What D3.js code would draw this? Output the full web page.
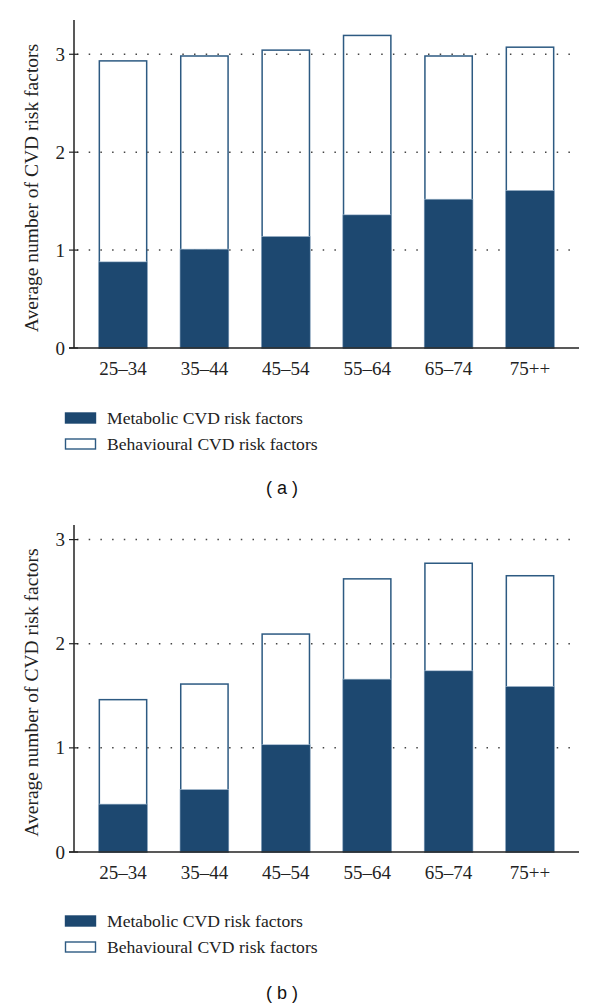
<!DOCTYPE html>
<html>
<head>
<meta charset="utf-8">
<script src="https://cdn.jsdelivr.net/npm/d3@7/dist/d3.min.js"></script>
<style>
  html, body { margin: 0; padding: 0; background: #fff; }
  svg { display: block; }
</style>
</head>
<body>
<svg id="chart" width="600" height="1008"></svg>
<script>
const categories = ["25–34", "35–44", "45–54", "55–64", "65–74", "75++"];
const metabolicA = [0.88, 1.01, 1.14, 1.36, 1.52, 1.61];
const behaviouralA = [2.06, 1.98, 1.91, 1.84, 1.47, 1.47];
const metabolicB = [0.46, 0.60, 1.03, 1.66, 1.74, 1.59];
const behaviouralB = [1.01, 1.02, 1.07, 0.97, 1.04, 1.07];
const yTicks = [0, 1, 2, 3];
const seriesNames = ["Metabolic CVD risk factors", "Behavioural CVD risk factors"];
const panelLabels = ["( a )", "( b )"];
const yTitle = "Average number of CVD risk factors";

const DARK = "#1d4870";
const EDGE = "#2d5a82";
const SERIF = "'Liberation Serif', 'DejaVu Serif', serif";
const SANS = "'Liberation Sans', Arial, sans-serif";

const svg = d3.select("#chart");

function panel(cfg) {
  const g = svg.append("g");
  const x = d3.scaleBand().domain(categories).range([74, 579])
    .paddingInner(0.4).paddingOuter(0.302);
  const y = d3.scaleLinear().domain([0, cfg.yMax]).range([cfg.y0, cfg.yTop]);
  const data = categories.map((c, i) => ({
    c, m: cfg.met[i], b: cfg.beh[i], t: cfg.met[i] + cfg.beh[i]
  }));

  g.selectAll("rect.beh").data(data).enter().append("rect")
    .attr("class", "beh")
    .attr("x", d => x(d.c) + 0.75)
    .attr("width", x.bandwidth() - 1.5)
    .attr("y", d => y(d.t) + 0.75)
    .attr("height", d => y(0) - y(d.t) - 0.75)
    .attr("fill", "#fff")
    .attr("stroke", EDGE)
    .attr("stroke-width", 1.5);

  g.selectAll("line.grid").data(yTicks.filter(v => v > 0)).enter().append("line")
    .attr("x1", 77).attr("x2", 579)
    .attr("y1", d => y(d)).attr("y2", d => y(d))
    .attr("stroke", "#444")
    .attr("stroke-width", 1.5)
    .attr("stroke-dasharray", "1.5,10.2");

  g.selectAll("rect.met").data(data).enter().append("rect")
    .attr("class", "met")
    .attr("x", d => x(d.c))
    .attr("width", x.bandwidth())
    .attr("y", d => y(d.m))
    .attr("height", d => y(0) - y(d.m))
    .attr("fill", DARK)
    .attr("stroke", "#a9bfd3")
    .attr("stroke-width", 0.6);

  const yAxis = d3.axisLeft(y).tickValues(yTicks).tickSize(0).tickPadding(9).tickFormat(d3.format("d"));
  const ya = g.append("g").attr("transform", "translate(74,0)").call(yAxis);
  ya.select(".domain").remove();
  ya.selectAll("text").attr("font-family", SERIF).attr("font-size", 19).attr("fill", "#222");
  ya.append("line").attr("x1", 0).attr("x2", 0).attr("y1", cfg.yTop).attr("y2", cfg.y0)
    .attr("stroke", "#222").attr("stroke-width", 1.5);
  ya.selectAll("line.tk").data(yTicks).enter().append("line")
    .attr("x1", -5).attr("x2", 4).attr("y1", d => y(d)).attr("y2", d => y(d))
    .attr("stroke", "#222").attr("stroke-width", 1.2);

  const xAxis = d3.axisBottom(x).tickSize(0).tickPadding(14);
  const xa = g.append("g").attr("transform", `translate(0,${cfg.y0})`).call(xAxis);
  xa.select(".domain").remove();
  xa.selectAll("text").attr("font-family", SERIF).attr("font-size", 19).attr("fill", "#222");
  xa.append("line").attr("x1", 69).attr("x2", 579).attr("y1", 0).attr("y2", 0)
    .attr("stroke", "#222").attr("stroke-width", 1.5);

  g.append("text")
    .attr("transform", `translate(38,${(cfg.yTop + cfg.y0) / 2 + 4}) rotate(-90)`)
    .attr("text-anchor", "middle")
    .attr("font-family", SERIF).attr("font-size", 19.5).attr("fill", "#222")
    .text(yTitle);

  const lg = g.append("g");
  seriesNames.forEach((name, i) => {
    const cy = cfg.legY + i * 26;
    lg.append("rect")
      .attr("x", 65.5).attr("y", cy - 5).attr("width", 30).attr("height", 10)
      .attr("fill", i === 0 ? DARK : "#fff")
      .attr("stroke", i === 0 ? DARK : EDGE)
      .attr("stroke-width", 1.4);
    lg.append("text")
      .attr("x", 107).attr("y", cy).attr("dy", "0.35em")
      .attr("font-family", SERIF).attr("font-size", 17.6).attr("fill", "#222")
      .text(name);
  });

  g.append("text")
    .attr("x", 282).attr("y", cfg.labY).attr("dy", "0.35em")
    .attr("text-anchor", "middle")
    .attr("font-family", SANS).attr("font-size", 18).attr("fill", "#111")
    .attr("xml:space", "preserve")
    .text(cfg.label);
}

panel({ met: metabolicA, beh: behaviouralA, yMax: 3.35, y0: 348, yTop: 20, legY: 418, labY: 488, label: panelLabels[0] });
panel({ met: metabolicB, beh: behaviouralB, yMax: 3.14, y0: 852, yTop: 525, legY: 921, labY: 993, label: panelLabels[1] });
</script>
</body>
</html>
